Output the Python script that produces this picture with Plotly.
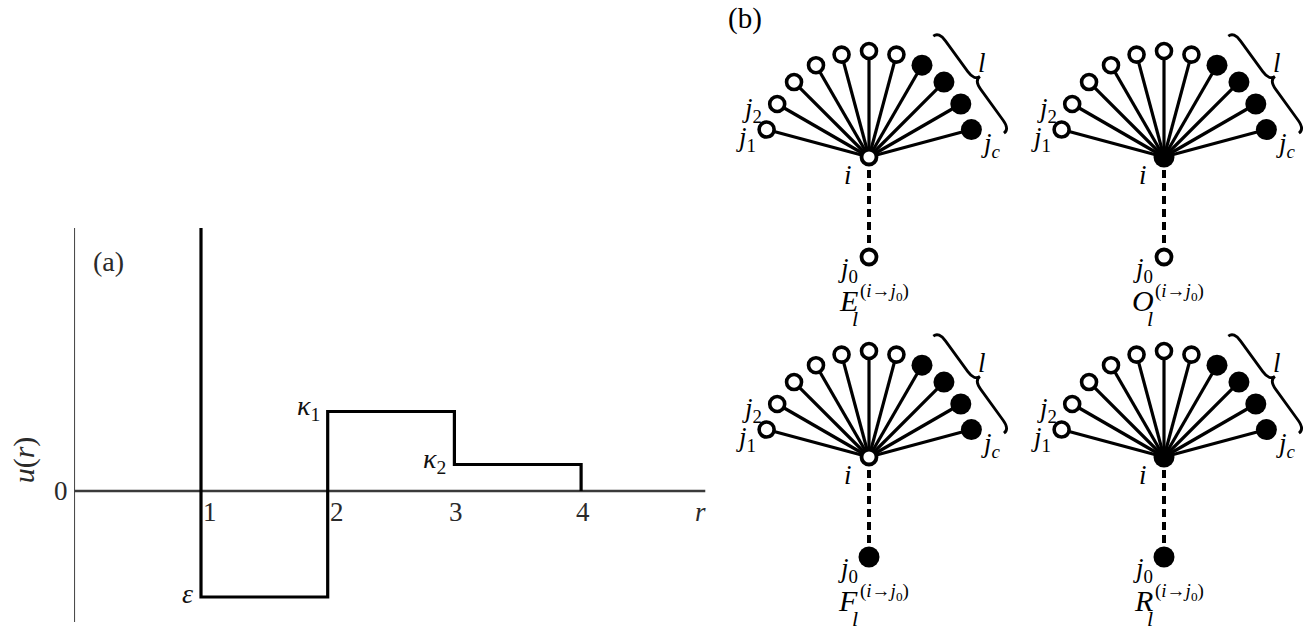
import math
import plotly.graph_objects as go

W, H = 1315, 631

# ---------------- Panel (a): step potential u(r) ----------------
R_STEP = [1, 1, 2, 2, 3, 3, 4, 4]
U_STEP = [2.48, -1.0, -1.0, 0.75, 0.75, 0.25, 0.25, 0.0]
R_TICKS = [1, 2, 3, 4]
R_TICK_TEXT = ["1", "2", "3", "4"]
LEVEL_R = [1, 2, 3]
LEVEL_U = [-1.0, 0.75, 0.25]
LEVEL_TEXT = ["<i>ε</i>", "<i>κ</i><sub>1</sub>", "<i>κ</i><sub>2</sub>"]
R_END = 4.98
U_TOP = 2.48
U_BOTTOM = -1.236

# ---------------- Panel (b): tree diagrams ----------------
NODE_ANGLES = [165, 150, 135, 120, 105, 90, 75, 60, 45, 30, 15]
NODE_FILLED = [0, 0, 0, 0, 0, 0, 0, 1, 1, 1, 1]
DIAGRAM_LETTERS = ["E", "O", "F", "R"]
CENTER_FILLED = [0, 1, 0, 1]
J0_FILLED = [0, 0, 1, 1]

# layout constants (pixels) for panel (b)
DIAG_CX = [869, 1164, 869, 1164]
DIAG_CY = [157, 157, 457, 457]
SPOKE_R = 106
J0_DIST = 100

SERIF = "Liberation Serif"
GREY = "#2a2a2a"

fig = go.Figure()

# ---- panel (a) traces
fig.add_trace(go.Scatter(x=[0, 0], y=[U_TOP, U_BOTTOM], mode="lines",
                         line=dict(color="black", width=1.5),
                         xaxis="x", yaxis="y", hoverinfo="skip"))
fig.add_trace(go.Scatter(x=[0, R_END], y=[0, 0], mode="lines",
                         line=dict(color="#3a3a3a", width=2.5),
                         xaxis="x", yaxis="y", hoverinfo="skip"))
fig.add_trace(go.Scatter(x=R_STEP, y=U_STEP, mode="lines",
                         line=dict(color="black", width=3.2),
                         xaxis="x", yaxis="y", hoverinfo="skip"))

ann = []
for r, t in zip(R_TICKS, R_TICK_TEXT):
    ann.append(dict(x=r, y=0, xref="x", yref="y", text=t, showarrow=False,
                    xanchor="left" if r < 3 else "center", yanchor="top",
                    xshift=0 if r < 3 else 2, yshift=-4,
                    font=dict(family=SERIF, size=27, color=GREY)))
ann.append(dict(x=R_END, y=0, xref="x", yref="y", text="<i>r</i>", showarrow=False,
                xanchor="center", yanchor="top", xshift=-5, yshift=-4,
                font=dict(family=SERIF, size=27, color=GREY)))
ann.append(dict(x=0, y=0, xref="x", yref="y", text="0", showarrow=False,
                xanchor="right", yanchor="middle", xshift=-4, yshift=0,
                font=dict(family=SERIF, size=27, color=GREY)))
for r, u, t in zip(LEVEL_R, LEVEL_U, LEVEL_TEXT):
    ann.append(dict(x=r, y=u, xref="x", yref="y", text=t, showarrow=False,
                    xanchor="right", yanchor="middle", xshift=-6, yshift=4,
                    font=dict(family=SERIF, size=28, color="#111")))
ann.append(dict(x=0, y=U_TOP, xref="x", yref="y", text="(a)", showarrow=False,
                xanchor="center", yanchor="middle", xshift=34, yshift=-33,
                font=dict(family=SERIF, size=28, color=GREY)))
ann.append(dict(x=0, y=(U_TOP + U_BOTTOM) / 2, xref="x", yref="y",
                text="<i>u</i>(<i>r</i>)", showarrow=False, textangle=-90,
                xanchor="center", yanchor="middle", xshift=-50, yshift=-35,
                font=dict(family=SERIF, size=30, color=GREY)))

# ---- panel (b)
shapes = []
ann.append(dict(x=745, y=18, xref="x2", yref="y2", text="(b)", showarrow=False,
                xanchor="center", yanchor="middle",
                font=dict(family=SERIF, size=29, color="black")))

for k in range(4):
    cx, cy = DIAG_CX[k], DIAG_CY[k]
    nx = [cx + SPOKE_R * math.cos(math.radians(a)) for a in NODE_ANGLES]
    ny = [cy - SPOKE_R * math.sin(math.radians(a)) for a in NODE_ANGLES]
    # spokes
    sx, sy = [], []
    for x, y in zip(nx, ny):
        sx += [cx, x, None]
        sy += [cy, y, None]
    fig.add_trace(go.Scatter(x=sx, y=sy, mode="lines",
                             line=dict(color="black", width=3.2),
                             xaxis="x2", yaxis="y2", hoverinfo="skip"))
    # dashed link to j0
    j0x, j0y = cx, cy + J0_DIST
    fig.add_trace(go.Scatter(x=[cx, j0x], y=[cy, j0y], mode="lines",
                             line=dict(color="black", width=4, dash="8px,5px"),
                             xaxis="x2", yaxis="y2", hoverinfo="skip"))
    # outer nodes
    ox = [x for x, f in zip(nx, NODE_FILLED) if not f]
    oy = [y for y, f in zip(ny, NODE_FILLED) if not f]
    fx = [x for x, f in zip(nx, NODE_FILLED) if f]
    fy = [y for y, f in zip(ny, NODE_FILLED) if f]
    fig.add_trace(go.Scatter(x=ox, y=oy, mode="markers",
                             marker=dict(size=15, color="white",
                                         line=dict(color="black", width=3.6)),
                             xaxis="x2", yaxis="y2", hoverinfo="skip"))
    fig.add_trace(go.Scatter(x=fx, y=fy, mode="markers",
                             marker=dict(size=21, color="black",
                                         line=dict(color="black", width=0)),
                             xaxis="x2", yaxis="y2", hoverinfo="skip"))
    # centre node i and j0
    for (px, py, filled) in [(cx, cy, CENTER_FILLED[k]), (j0x, j0y, J0_FILLED[k])]:
        if filled:
            mk = dict(size=21, color="black", line=dict(color="black", width=0))
        else:
            mk = dict(size=15, color="white", line=dict(color="black", width=3.8))
        fig.add_trace(go.Scatter(x=[px], y=[py], mode="markers", marker=mk,
                                 xaxis="x2", yaxis="y2", hoverinfo="skip"))

    # curly brace over the filled nodes
    fa = [a for a, f in zip(NODE_ANGLES, NODE_FILLED) if f]
    a0, a1 = math.radians(max(fa) + 2), math.radians(min(fa) - 5)
    rb = SPOKE_R + 31
    p0 = (cx + rb * math.cos(a0), cy - rb * math.sin(a0))
    p1 = (cx + rb * math.cos(a1), cy - rb * math.sin(a1))
    L = math.hypot(p1[0] - p0[0], p1[1] - p0[1])
    ux, uy = (p1[0] - p0[0]) / L, (p1[1] - p0[1]) / L
    vx, vy = uy, -ux  # outward normal
    h, q = 14, 11

    def P(u, v):
        return (p0[0] + ux * u + vx * v, p0[1] + uy * u + vy * v)

    pts = [P(0, 0), P(0, h / 2), P(q, h / 2), P(L / 2 - q, h / 2), P(L / 2, h / 2),
           P(L / 2, h), P(L / 2, h / 2), P(L / 2 + q, h / 2), P(L - q, h / 2),
           P(L, h / 2), P(L, 0)]
    f = lambda p: f"{p[0]:.2f},{p[1]:.2f}"
    path = (f"M {f(pts[0])} Q {f(pts[1])} {f(pts[2])} L {f(pts[3])} "
            f"Q {f(pts[4])} {f(pts[5])} Q {f(pts[6])} {f(pts[7])} L {f(pts[8])} "
            f"Q {f(pts[9])} {f(pts[10])}")
    shapes.append(dict(type="path", path=path, xref="x2", yref="y2",
                       line=dict(color="black", width=2.8)))

    def lab(dx, dy, text, size, xa="center"):
        ann.append(dict(x=cx + dx, y=cy + dy, xref="x2", yref="y2", text=text,
                        showarrow=False, xanchor=xa, yanchor="middle",
                        font=dict(family=SERIF, size=size, color="black")))

    lab(-111, -18, "<i>j</i><sub>1</sub>", 27, "right")
    lab(-105, -47, "<i>j</i><sub>2</sub>", 27, "right")
    lab(110, -12, "<i>j</i><sub><i>c</i></sub>", 27, "left")
    lab(-21, 18, "<i>i</i>", 27)
    lab(113, -94, "<i>l</i>", 27)
    lab(-21, 113, "<i>j</i><sub>0</sub>", 27)
    lab(-21, 143, f"<i>{DIAGRAM_LETTERS[k]}</i>", 30)
    lab(-11, 135, "(<i>i</i>→<i>j</i><sub>0</sub>)", 19, "left")
    lab(-14, 161, "<i>l</i>", 22)

fig.update_layout(
    width=W, height=H,
    margin=dict(l=0, r=0, t=0, b=0),
    paper_bgcolor="white", plot_bgcolor="rgba(0,0,0,0)",
    showlegend=False,
    xaxis=dict(domain=[74.3 / W, (74.3 + 5 * 126.7) / W], range=[0, 5],
               visible=False, anchor="y"),
    yaxis=dict(domain=[0, 1], range=[(491 - H) / 106, 491 / 106],
               visible=False, anchor="x"),
    xaxis2=dict(domain=[0, 1], range=[0, W], visible=False, anchor="y2"),
    yaxis2=dict(domain=[0, 1], range=[H, 0], visible=False, anchor="x2"),
    annotations=ann,
    shapes=shapes,
)

fig.write_html("out.html",
               config={"displayModeBar": False},
               post_script="document.body.style.margin='0';"
                           "document.body.style.overflow='hidden';")
